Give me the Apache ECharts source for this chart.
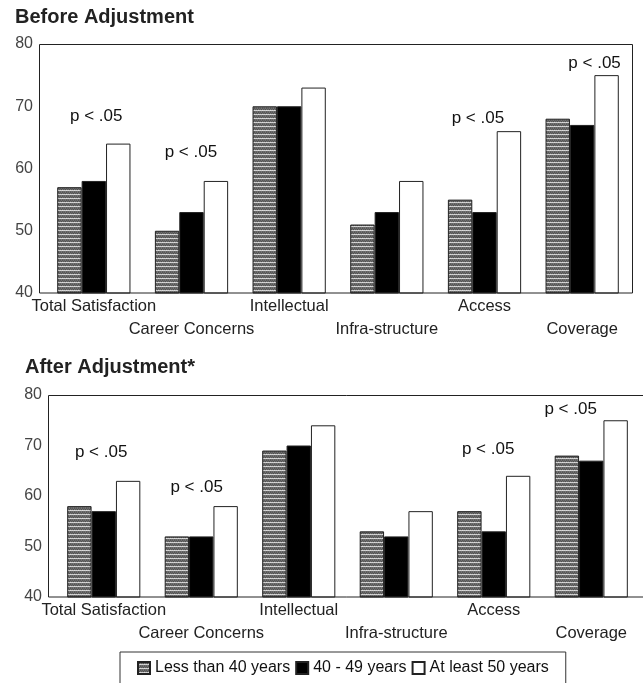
<!DOCTYPE html>
<html><head><meta charset="utf-8">
<script src="https://cdn.jsdelivr.net/npm/echarts@6/dist/echarts.min.js"></script>
<style>html,body{margin:0;padding:0;background:#fff}#c{width:643px;height:683px}</style>
</head><body><div id="c"></div>
<script>
// ---- data ----
const categories = ['Total Satisfaction', 'Career Concerns', 'Intellectual', 'Infra-structure', 'Access', 'Coverage'];
const seriesNames = ['Less than 40 years', '40 - 49 years', 'At least 50 years'];
const beforeUnder40 = [57, 50, 70, 51, 55, 68];
const before40to49 = [58, 53, 70, 53, 53, 67];
const before50plus = [64, 58, 73, 58, 66, 75];
const afterUnder40 = [58, 52, 69, 53, 57, 68];
const after40to49 = [57, 52, 70, 52, 53, 67];
const after50plus = [63, 58, 74, 57, 64, 75];
const beforeSig = [true, true, false, false, true, true];
const afterSig = [true, true, false, false, true, true];
const sigText = 'p < .05';
const yMin = 40, yMax = 80, yStep = 10;
const titles = ['Before Adjustment', 'After Adjustment*'];

// ---- layout (not data) ----
const FONT = 'Liberation Sans, Arial, sans-serif';
const beforeSigOffsets = [[-22, -27], [-25, -29], null, null, [-31, -13], [-12, -12]];
const afterSigOffsets = [[-27, -29], [-29, -19], null, null, [-30, -26], [-45, -11]];

// hatched pattern
const pc = document.createElement('canvas');
pc.width = 4; pc.height = 4;
const px = pc.getContext('2d');
const rows = [
  ['#5a5a5a', '#727272', '#555555', '#6a6a6a'],
  ['#6e6e6e', '#4e4e4e', '#787878', '#5a5a5a'],
  ['#d6d6d6', '#c6c6c6', '#dddddd', '#cccccc'],
  ['#646464', '#7a7a7a', '#5e5e5e', '#707070']
];
rows.forEach((r, y) => r.forEach((c, x) => { px.fillStyle = c; px.fillRect(x, y, 1, 1); }));
const hatch = { image: pc, repeat: 'repeat' };
const colors = [hatch, '#000000', '#ffffff'];

function barSeries(name, values, gi, ci, sig, offs) {
  const data = values.map((v, i) => {
    if (sig && sig[i]) {
      return {
        value: v,
        label: {
          show: true, formatter: sigText, position: 'top', distance: 0,
          verticalAlign: 'middle', offset: offs[i],
          fontSize: 17, color: '#111', fontFamily: FONT
        }
      };
    }
    return v;
  });
  return {
    type: 'bar', name, data, xAxisIndex: gi, yAxisIndex: gi,
    barGap: '0%', barCategoryGap: '25%',
    itemStyle: { color: colors[ci], borderColor: '#222', borderWidth: 1 },
    emphasis: { disabled: true }, animation: false
  };
}

const xAxisCommon = {
  type: 'category', data: categories,
  axisLine: { show: false }, axisTick: { show: false },
  axisLabel: {
    interval: 0, fontSize: 16.5, color: '#222', fontFamily: FONT, margin: 2, lineHeight: 23,
    formatter: (v, i) => (i % 2 ? '\n' + v : v)
  }
};
const yAxisCommon = {
  type: 'value', min: yMin, max: yMax, interval: yStep,
  axisLine: { show: false }, axisTick: { show: false }, splitLine: { show: false },
  axisLabel: { fontSize: 16, color: '#444', fontFamily: FONT }
};

const chart = echarts.init(document.getElementById('c'), null, { renderer: 'canvas' });
chart.setOption({
  animation: false,
  title: [
    { text: titles[0], left: 15, top: 7, padding: 0, textStyle: { fontSize: 20, fontWeight: 'bold', color: '#222', fontFamily: FONT } },
    { text: titles[1], left: 25, top: 357, padding: 0, textStyle: { fontSize: 20, fontWeight: 'bold', color: '#222', fontFamily: FONT } }
  ],
  grid: [
    { left: 45, top: 44, width: 586, height: 249 },
    { left: 55, top: 395, width: 585, height: 202 }
  ],
  xAxis: [
    Object.assign({ gridIndex: 0 }, xAxisCommon),
    Object.assign({ gridIndex: 1 }, xAxisCommon)
  ],
  yAxis: [
    Object.assign({ gridIndex: 0 }, yAxisCommon, { axisLabel: Object.assign({}, yAxisCommon.axisLabel, { margin: 12 }) }),
    Object.assign({ gridIndex: 1 }, yAxisCommon, { axisLabel: Object.assign({}, yAxisCommon.axisLabel, { margin: 13 }) })
  ],
  legend: {
    data: seriesNames, left: 120, top: 652, icon: 'rect',
    itemWidth: 12, itemHeight: 12, itemGap: 5,
    padding: [8, 17], borderColor: '#333', borderWidth: 1,
    textStyle: { fontSize: 16, color: '#111', fontFamily: FONT },
    selectedMode: false
  },
  graphic: [
    { type: 'rect', z: 100, silent: true, shape: { x: 39.5, y: 44.5, width: 593, height: 248.5 }, style: { fill: 'none', stroke: '#222', lineWidth: 1 } },
    { type: 'rect', z: 100, silent: true, shape: { x: 48.5, y: 395.5, width: 610, height: 201.5 }, style: { fill: 'none', stroke: '#222', lineWidth: 1 } }
  ],
  series: [
    barSeries(seriesNames[0], beforeUnder40, 0, 0),
    barSeries(seriesNames[1], before40to49, 0, 1),
    barSeries(seriesNames[2], before50plus, 0, 2, beforeSig, beforeSigOffsets),
    barSeries(seriesNames[0], afterUnder40, 1, 0),
    barSeries(seriesNames[1], after40to49, 1, 1),
    barSeries(seriesNames[2], after50plus, 1, 2, afterSig, afterSigOffsets)
  ]
});
</script>
</body></html>
